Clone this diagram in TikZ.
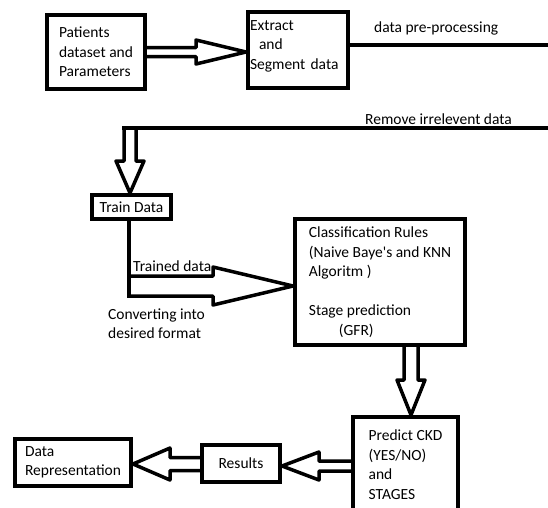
\documentclass[tikz,border=0pt]{standalone}
\usepackage{fontspec}
\setmainfont{Carlito}
\usetikzlibrary{calc}

\begin{document}
\begin{tikzpicture}
    [
    x=1pt, y=-1pt,
    font=\fontsize{15.5}{19.5}\selectfont,
    box/.style={draw,line width=4pt,rectangle,inner sep=0pt,align=left},
    conn/.style={line width=4pt},
    note/.style={inner sep=0pt},
    blockarrow/.style n args={3}{line width=3.5pt,line join=round,
      to path={let \p1=($(\tikztotarget)!#3!(\tikztostart)$) in
        ($(\tikztostart)!#1!90:(\tikztotarget)$) -- ($(\p1)!#1!90:(\tikztotarget)$)
        -- ($(\p1)!#2!90:(\tikztotarget)$) -- (\tikztotarget)
        -- ($(\p1)!#2!-90:(\tikztotarget)$) -- ($(\p1)!#1!-90:(\tikztotarget)$)
        -- ($(\tikztostart)!#1!-90:(\tikztotarget)$)}}
    ]
    \useasboundingbox (0,0) rectangle (548,507);
    % boxes
    \node (pat) at (96,52) [box,minimum width=98pt,minimum height=74pt] {Patients\\dataset and\\Parameters};
    \node (ext) at (298,50) [box,minimum width=100pt,minimum height=76pt,text width=96pt] {Extract\\\hspace*{9pt}and\\\mbox{Segment data}\rule[-10pt]{0pt}{1pt}};
    \node (train) at (131.5,207) [box,minimum width=79pt,minimum height=24pt] {Train Data};
    \node (cls) at (380,282) [box,minimum width=170pt,minimum height=126pt] {Classification Rules\\(Naive Baye\textquotesingle s and KNN\\Algoritm )\\[19.5pt]Stage prediction\\\hspace*{30pt}(GFR)};
    \node (pred) at (405.5,464.5) [box,minimum width=105pt,minimum height=95pt] {Predict CKD\\(YES/NO)\\and\\STAGES};
    \node (res) at (241,463.5) [box,minimum width=78pt,minimum height=37pt] {Results};
    \node (rep) at (73,462.5) [box,minimum width=116pt,minimum height=47pt] {Data\\Representation};
    % free labels
    \node (pptxt) at (374,32) [note,anchor=base west] {data pre-processing};
    \node (rmtxt) at (365,124) [note,anchor=base west] {Remove irrelevent data};
    \node (trtxt) at (133,271) [note,anchor=base west] {Trained data};
    \node (cvtxt) at (108,308.5) [note,anchor=north west,align=left] {Converting into\\desired format};
    % line ends
    \coordinate (ppend) at (548,45);
    \coordinate (rmend) at (548,128);
    \coordinate (bend) at (130,128);
    \coordinate (cvt) at (129,286);
    \coordinate (cvtend) at (129,298);
    \coordinate (dnx) at (411,400);
    \coordinate (prline) at (300,466);
    \coordinate (rpline) at (150,464);
    % connectors
    \draw [blockarrow={4.5pt}{12pt}{50pt}] (pat.east) to (pat.east -| ext.west);
    \draw [conn] (ext.east |- ppend) -- (ppend);
    \draw [conn] (rmend) -- ([xshift=-8pt]bend);
    \draw [blockarrow={6pt}{14pt}{32pt}] (bend) to (bend |- train.north);
    \draw [conn] (train.south -| cvtend) -- (cvtend);
    \draw [blockarrow={10pt}{19pt}{80pt}] (cvt) to (cvt -| cls.west);
    \draw [blockarrow={7pt}{14pt}{35pt}] (cls.south -| dnx) to (pred.north -| dnx);
    \draw [blockarrow={5pt}{14pt}{37pt}] (pred.west |- prline) to (res.east |- prline);
    \draw [blockarrow={6.5pt}{16pt}{37pt}] (res.west |- rpline) to (rep.east |- rpline);
\end{tikzpicture}
\end{document}
